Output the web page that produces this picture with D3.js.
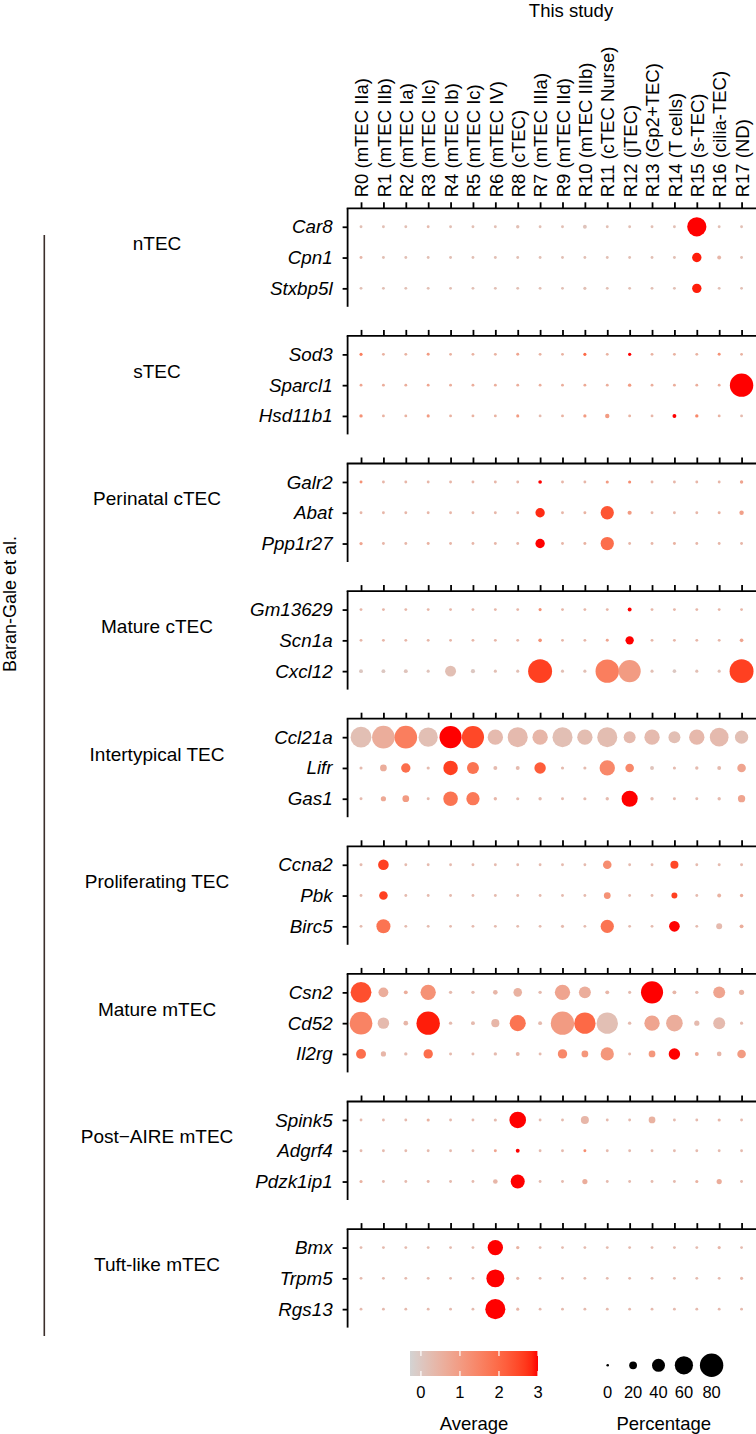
<!DOCTYPE html>
<html><head><meta charset="utf-8">
<script src="https://cdn.jsdelivr.net/npm/d3@7/dist/d3.min.js"></script>
<style>
body{margin:0;background:#fff}
svg{display:block}
text{font-family:"Liberation Sans",Arial,Helvetica,sans-serif;fill:#000}
</style>
</head><body>
<svg id="chart" width="756" height="1434"></svg>
<script>
// ---------------- DATA ----------------
const columns = ["R0 (mTEC IIa)","R1 (mTEC IIb)","R2 (mTEC Ia)","R3 (mTEC IIc)","R4 (mTEC Ib)","R5 (mTEC Ic)","R6 (mTEC IV)","R8 (cTEC)","R7 (mTEC IIIa)","R9 (mTEC IId)","R10 (mTEC IIIb)","R11 (cTEC Nurse)","R12 (jTEC)","R13 (Gp2+TEC)","R14 (T cells)","R15 (s-TEC)","R16 (cilia-TEC)","R17 (ND)"];
const panelNames = ["nTEC","sTEC","Perinatal cTEC","Mature cTEC","Intertypical TEC","Proliferating TEC","Mature mTEC","Post\u2212AIRE mTEC","Tuft-like mTEC"];
const panelGenes = [
  ["Car8","Cpn1","Stxbp5l"],
  ["Sod3","Sparcl1","Hsd11b1"],
  ["Galr2","Abat","Ppp1r27"],
  ["Gm13629","Scn1a","Cxcl12"],
  ["Ccl21a","Lifr","Gas1"],
  ["Ccna2","Pbk","Birc5"],
  ["Csn2","Cd52","Il2rg"],
  ["Spink5","Adgrf4","Pdzk1ip1"],
  ["Bmx","Trpm5","Rgs13"]
];
// percentage expressed (dot size), one row per gene, columns in the order above
const pctNTEC = [
  [1,1,1,1,1,1,1,3,1,1,5,1,1,1,1,64,1,1],
  [1.5,1,1,1,1,1,1,1,1,1,1,1,1,1,1,26,5,1],
  [1,1,1,1,1,1,1,1,1,1,2,1,1,1,1,26,1,1]];
const avgNTEC = [
  [0.2,0.2,0.2,0.3,0.2,0.2,0.2,0.2,0.2,0.2,0.1,0.2,0.2,0.2,0.2,3.0,0.2,0.2],
  [0.4,0.2,0.2,0.2,0.2,0.2,0.2,0.2,0.2,0.2,0.2,0.2,0.2,0.2,0.2,2.9,0.4,0.2],
  [0.2,0.2,0.2,0.2,0.2,0.2,0.2,0.2,0.2,0.2,0.2,0.2,0.2,0.2,0.2,2.9,0.2,0.2]];
const pctSTEC = [
  [2,1,1,1.5,1,1,1,1.5,1,1,2,1,2.5,1,1,1,1.5,1],
  [1,1,1,1,1,1,1,1,1,1,1,1,3,1,1,1,1,80],
  [3,1,1,2,1,1,1,2,1,1,2.5,7,1,1,5,3,1,1]];
const avgSTEC = [
  [1.6,0.5,0.5,1.0,0.5,0.5,0.5,0.8,0.5,0.5,2.0,0.5,3.0,0.5,0.5,0.5,1.2,0.5],
  [0.8,0.6,0.6,0.8,0.6,0.6,0.6,0.6,0.6,0.6,0.7,0.6,1.0,0.6,0.6,0.6,0.6,3.0],
  [1.2,0.5,0.5,1.0,0.5,0.5,0.5,1.0,0.3,0.5,1.0,1.0,0.5,0.4,3.0,1.4,0.5,0.3]];
const pctPeriC = [
  [1.5,1,1,1,1,1,1,1,4,1,1,2,2,1,1,1,1,3],
  [1,1,1,1,1,1,1,1,26,1,1.5,41,6,1,1,1,1.5,7],
  [2.5,1,1,1.5,1,1,1,1,26,1,1.5,41,1,1,1.5,1,1,1]];
const avgPeriC = [
  [1.2,0.4,0.4,0.4,0.4,0.4,0.4,0.4,3.0,0.4,0.4,1.0,1.3,0.4,0.4,0.4,0.4,0.8],
  [0.4,0.4,0.4,0.4,0.4,0.4,0.4,0.4,2.8,0.4,0.5,2.3,1.0,0.4,0.4,0.4,0.5,0.9],
  [0.8,0.4,0.4,0.5,0.4,0.4,0.4,0.4,3.0,0.4,0.5,1.9,0.4,0.4,0.5,0.4,0.4,0.4]];
const pctMatC = [
  [1,1,1,1,1,1,1,1,2,1,1,1,5,1,1,1,1,1],
  [1,1,1,1,1,1,1,1,4,1,1,1.5,22,1,1,1,1,4],
  [5,5,5,2,32,6,2,2,82,2,2,80,75,2,4,2,2,82]];
const avgMatC = [
  [0.4,0.4,0.4,0.4,0.4,0.4,0.4,0.4,1.2,0.4,0.4,0.4,3.0,0.4,0.4,0.4,0.4,0.4],
  [0.4,0.4,0.4,0.4,0.4,0.4,0.4,0.4,1.2,0.4,0.4,0.8,3.0,0.4,0.4,0.4,0.4,0.8],
  [0.0,0.0,0.1,0.1,0.2,0.0,0.2,0.2,2.6,0.2,0.2,1.6,1.0,0.2,0.0,0.2,0.2,2.6]];
const pctInter = [
  [70,77,77,64,75,75,49,67,49,67,49,67,36,49,36,49,62,41],
  [2,16,26,2,46,36,5,5,34,2,2,49,23,5,2,3,5,23],
  [1.5,10,16,1.5,46,41,3,2,3,1.5,2,3,52,3,1.5,1.5,3,18]];
const avgInter = [
  [0.2,0.6,1.6,0.2,3.0,2.5,0.3,0.3,0.4,0.2,0.25,0.25,0.3,0.3,0.2,0.35,0.3,0.2],
  [0.3,0.6,1.9,0.3,2.6,1.8,0.3,0.3,2.2,0.3,0.3,1.4,1.4,0.1,0.3,0.3,0.3,0.8],
  [0.3,0.7,1.0,0.3,1.8,1.7,0.4,0.3,0.3,0.3,0.3,0.3,3.0,0.3,0.3,0.3,0.3,0.8]];
const pctProlif = [
  [1.5,31,1,1,1,1,1,1,1,1,1,23,1,1,21,1,1.5,1.5],
  [1,23,1,1,1,1,1,1,1,1,1,16,1,1,13,1,5,3],
  [1,44,1,1,1,1,1,1,1,2,1,41,1,1,31,1,13,5]];
const avgProlif = [
  [0.3,2.6,0.3,0.3,0.3,0.3,0.3,0.3,0.3,0.3,0.3,1.3,0.3,0.3,2.5,0.3,0.3,0.3],
  [0.3,2.6,0.3,0.3,0.3,0.3,0.3,0.3,0.3,0.3,0.3,1.2,0.3,0.3,2.6,0.3,0.5,0.6],
  [0.3,1.8,0.3,0.3,0.3,0.3,0.3,0.3,0.3,0.3,0.3,1.8,0.3,0.3,3.0,0.3,0.3,0.6]];
const pctMatM = [
  [70,28,5,49,3,3,8,23,3,49,36,5,2,75,5,3,36,10],
  [77,34,8,80,3,5,21,52,5,80,72,72,3,49,54,10,36,2],
  [28,10,3,26,1.5,1.5,3,5,1.5,26,16,41,1.5,16,34,5,8,23]];
const avgMatM = [
  [2.4,0.6,0.6,1.2,0.3,0.3,0.4,0.5,0.3,0.8,0.6,0.4,0.3,3.0,0.4,0.3,0.8,0.5],
  [1.5,0.3,0.4,2.9,0.3,0.3,0.4,1.8,0.3,1.0,2.0,0.2,0.3,0.8,0.6,0.3,0.3,0.3],
  [1.9,0.4,0.3,1.9,0.3,0.3,0.3,0.4,0.3,1.4,1.1,1.1,0.3,1.1,3.0,0.7,0.4,1.0]];
const pctPostA = [
  [1,1,1,2,1,1,2,54,1,1,21,1,1,16,1,1,2,1],
  [1,1,1,1,1,1,1.5,5,1,1,1.5,1,1,1,1,1,1,1],
  [2,1,1,1.5,1,1,8,44,1,1,10,1,1,1,1,2,10,1]];
const avgPostA = [
  [0.3,0.3,0.3,0.5,0.3,0.3,0.3,3.0,0.3,0.3,0.4,0.3,0.3,0.5,0.3,0.3,0.4,0.3],
  [0.3,0.3,0.3,0.3,0.3,0.3,0.8,3.0,0.3,0.3,1.3,0.3,0.3,0.3,0.3,0.3,0.3,0.3],
  [0.5,0.3,0.3,0.4,0.3,0.3,0.4,3.0,0.3,0.3,0.6,0.3,0.3,0.3,0.3,0.5,0.6,0.3]];
const pctTuft = [
  [1,1,1,1,1,1,49,3,1,1,1,1,1,1,1,1,2,1],
  [1,1,1,1,1,1,59,2,1,1,1,1,1,1,1,1,1,2],
  [1,1,1,1,1,1,67,2,1,1,1,1,1,1,1,1,1,1]];
const avgTuft = [
  [0.3,0.3,0.3,0.3,0.3,0.3,3.0,0.5,0.3,0.3,0.3,0.3,0.3,0.3,0.3,0.3,0.4,0.3],
  [0.3,0.3,0.3,0.3,0.3,0.3,3.0,0.4,0.3,0.3,0.3,0.3,0.3,0.3,0.3,0.3,0.3,0.4],
  [0.3,0.3,0.3,0.3,0.3,0.3,3.0,0.4,0.3,0.3,0.3,0.3,0.3,0.3,0.3,0.3,0.3,0.3]];
const panelPct = [pctNTEC,pctSTEC,pctPeriC,pctMatC,pctInter,pctProlif,pctMatM,pctPostA,pctTuft];
const panelAvg = [avgNTEC,avgSTEC,avgPeriC,avgMatC,avgInter,avgProlif,avgMatM,avgPostA,avgTuft];
const colorTicks = [0,1,2,3];
const sizeTicks = [0,20,40,60,80];
const colorLimits = [-0.28, 3.0];

// ---------------- LAYOUT ----------------
const svg = d3.select("#chart");
const plotLeft = 347.6, plotRight = 755;
const firstTop = 208.3, panelStep = 127.6, panelH = 98.5;
const lineW = 1.8;

const x = d3.scalePoint().domain(columns).range([plotLeft, plotRight]).padding(0.6);
const color = d3.scaleLinear().domain(colorLimits).range(["#D3D3D3","#FF0000"]).interpolate(d3.interpolateLab).clamp(true);
const rScale = d3.scaleLinear().domain([0,80]).range([1.3,11.7]);

// title
svg.append("text").attr("x", 571).attr("y", 17).attr("text-anchor","middle")
   .style("font-size","18.5px").text("This study");

panelNames.forEach((name, p) => {
  const top = firstTop + p*panelStep;
  const genes = panelGenes[p];
  const y = d3.scalePoint().domain(genes).range([top, top+panelH]).padding(0.6);
  const g = svg.append("g");

  // points
  const pts = [];
  genes.forEach((gene, gi) => columns.forEach((col, ci) => {
    pts.push({gene, col, pct: panelPct[p][gi][ci], avg: panelAvg[p][gi][ci]});
  }));
  g.append("g").selectAll("circle").data(pts).join("circle")
    .attr("cx", d => x(d.col)).attr("cy", d => y(d.gene))
    .attr("r", d => rScale(d.pct)).attr("fill", d => color(d.avg));

  // top axis
  const ax = g.append("g").attr("transform", `translate(0,${top})`)
    .call(d3.axisTop(x).tickSize(6).tickSizeOuter(0).tickPadding(5));
  ax.select(".domain").attr("stroke-width", lineW).attr("d", `M${plotLeft-lineW/2},0H${plotRight+2}`);
  ax.selectAll(".tick line").attr("stroke-width", lineW);
  if (p === 0) {
    ax.selectAll(".tick text")
      .attr("transform","rotate(-90)").attr("x", 11).attr("y", 0).attr("dy","0.36em")
      .attr("text-anchor","start").style("font-size","18.5px")
      .style("font-family",'"Liberation Sans",Arial,sans-serif').attr("fill","#000");
  } else {
    ax.selectAll(".tick text").remove();
  }

  // left axis
  const ay = g.append("g").attr("transform", `translate(${plotLeft},0)`)
    .call(d3.axisLeft(y).tickSize(5).tickSizeOuter(0).tickPadding(10));
  ay.select(".domain").attr("stroke-width", lineW).attr("d", `M0,${top}V${top+panelH}`);
  ay.selectAll(".tick line").attr("stroke-width", lineW);
  ay.selectAll(".tick text").style("font-size","18.8px").style("font-style","italic")
    .style("font-family",'"Liberation Sans",Arial,sans-serif').attr("fill","#000");

  // panel label
  svg.append("text").attr("x", 157).attr("y", top + panelH/2 - 14).attr("dy","0.35em")
     .attr("text-anchor","middle").style("font-size","19px").text(name);
});

// left bracket
svg.append("line").attr("x1",44.3).attr("x2",44.3).attr("y1",235).attr("y2",1336)
   .attr("stroke","#3b2e2b").attr("stroke-width",1.6);
svg.append("text").attr("transform","translate(10,604) rotate(-90)").attr("dy","0.35em")
   .attr("text-anchor","middle").style("font-size","18px").text("Baran-Gale et al.");

// ---------------- LEGENDS ----------------
const barX0 = 410, barX1 = 538, barY = 1351, barH = 25;
const barScale = d3.scaleLinear().domain(colorLimits).range([barX0, barX1]);
const defs = svg.append("defs");
const grad = defs.append("linearGradient").attr("id","cg");
d3.range(0, 1.0001, 0.05).forEach(t => {
  const v = colorLimits[0] + t*(colorLimits[1]-colorLimits[0]);
  grad.append("stop").attr("offset", (t*100)+"%").attr("stop-color", color(v));
});
svg.append("rect").attr("x",barX0).attr("y",barY).attr("width",barX1-barX0).attr("height",barH).attr("fill","url(#cg)");
const cl = svg.append("g");
colorTicks.forEach(v => {
  const xx = barScale(v);
  cl.append("line").attr("x1",xx).attr("x2",xx).attr("y1",barY).attr("y2",barY+5).attr("stroke","#fff").attr("stroke-width",1.2);
  cl.append("line").attr("x1",xx).attr("x2",xx).attr("y1",barY+barH-5).attr("y2",barY+barH).attr("stroke","#fff").attr("stroke-width",1.2);
  cl.append("text").attr("x",xx).attr("y",1398).attr("text-anchor","middle").style("font-size","16.5px").text(v);
});
svg.append("text").attr("x",(barX0+barX1)/2).attr("y",1430).attr("text-anchor","middle").style("font-size","18.5px").text("Average");

// size legend
const keyW = sizeTicks.map(v => Math.max(25.4, 2*rScale(v)+6.6));
let acc = 595;
const keyX = keyW.map(w => { const c = acc + w/2; acc += w; return c; });
const sl = svg.append("g");
sizeTicks.forEach((v,i) => {
  sl.append("circle").attr("cx",keyX[i]).attr("cy",1365.3).attr("r",rScale(v)).attr("fill","#000");
  sl.append("text").attr("x",keyX[i]).attr("y",1398).attr("text-anchor","middle").style("font-size","16.5px").text(v);
});
svg.append("text").attr("x",(595+acc)/2+3).attr("y",1430).attr("text-anchor","middle").style("font-size","18.5px").text("Percentage");
</script>
</body></html>
